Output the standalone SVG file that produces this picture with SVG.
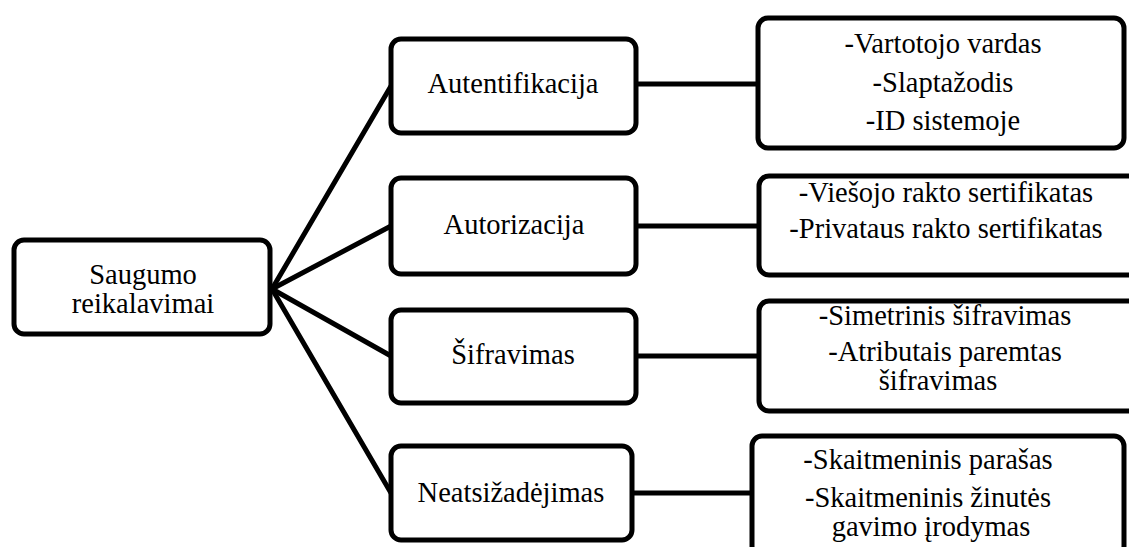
<svg xmlns="http://www.w3.org/2000/svg" width="1129" height="547" viewBox="0 0 1129 547">
  <style>
    .box { fill: #ffffff; stroke: #000000; stroke-width: 5; }
    .conn { stroke: #000000; stroke-width: 5; fill: none; stroke-linecap: round; }
    .lbl { font-family: 'Liberation Serif', 'Times New Roman', serif; font-size: 28.5px; fill: #000000; text-anchor: middle; }
  </style>
  <rect width="1129" height="547" fill="#ffffff"/>

  <!-- root fans out to the four requirement boxes; each links to its detail box -->
  <g id="connectors">
    <line class="conn" x1="272" y1="289" x2="391" y2="86"/>
    <line class="conn" x1="272" y1="289" x2="391" y2="226"/>
    <line class="conn" x1="272" y1="289" x2="391" y2="356"/>
    <line class="conn" x1="272" y1="289" x2="391" y2="493"/>
    <line class="conn" x1="636" y1="84" x2="758" y2="84"/>
    <line class="conn" x1="636" y1="226" x2="759" y2="226"/>
    <line class="conn" x1="636" y1="356" x2="759" y2="356"/>
    <line class="conn" x1="632" y1="493" x2="752" y2="493"/>
  </g>

  <g id="root">
    <rect class="box" x="14" y="240" width="256" height="94" rx="10"/>
    <text class="lbl" x="143" y="284">Saugumo</text>
    <text class="lbl" x="143" y="313">reikalavimai</text>
  </g>

  <g id="autentifikacija">
    <rect class="box" x="391" y="39" width="245" height="94" rx="10"/>
    <text class="lbl" x="513" y="93">Autentifikacija</text>
  </g>

  <g id="autorizacija">
    <rect class="box" x="391" y="178" width="245" height="96" rx="10"/>
    <text class="lbl" x="514" y="234">Autorizacija</text>
  </g>

  <g id="sifravimas">
    <rect class="box" x="391" y="310" width="245" height="93" rx="10"/>
    <text class="lbl" x="513" y="364">Šifravimas</text>
  </g>

  <g id="neatsizadejimas">
    <rect class="box" x="391" y="446" width="241" height="94" rx="10"/>
    <text class="lbl" x="511" y="502">Neatsižadėjimas</text>
  </g>

  <g id="autentifikacija-details">
    <rect class="box" x="758" y="18" width="366" height="130" rx="10"/>
    <text class="lbl" x="943" y="53">-Vartotojo vardas</text>
    <text class="lbl" x="943" y="92">-Slaptažodis</text>
    <text class="lbl" x="943" y="130">-ID sistemoje</text>
  </g>

  <g id="autorizacija-details">
    <rect class="box" x="759" y="176" width="380" height="99" rx="10"/>
    <text class="lbl" x="946" y="202">-Viešojo rakto sertifikatas</text>
    <text class="lbl" x="946" y="238">-Privataus rakto sertifikatas</text>
  </g>

  <g id="sifravimas-details">
    <rect class="box" x="759" y="301" width="380" height="110" rx="10"/>
    <text class="lbl" x="945" y="325">-Simetrinis šifravimas</text>
    <text class="lbl" x="945" y="361">-Atributais paremtas</text>
    <text class="lbl" x="938" y="390">šifravimas</text>
  </g>

  <g id="neatsizadejimas-details">
    <rect class="box" x="752" y="436" width="372" height="120" rx="10"/>
    <text class="lbl" x="928" y="469">-Skaitmeninis parašas</text>
    <text class="lbl" x="928" y="507">-Skaitmeninis žinutės</text>
    <text class="lbl" x="931" y="536">gavimo įrodymas</text>
  </g>
</svg>
